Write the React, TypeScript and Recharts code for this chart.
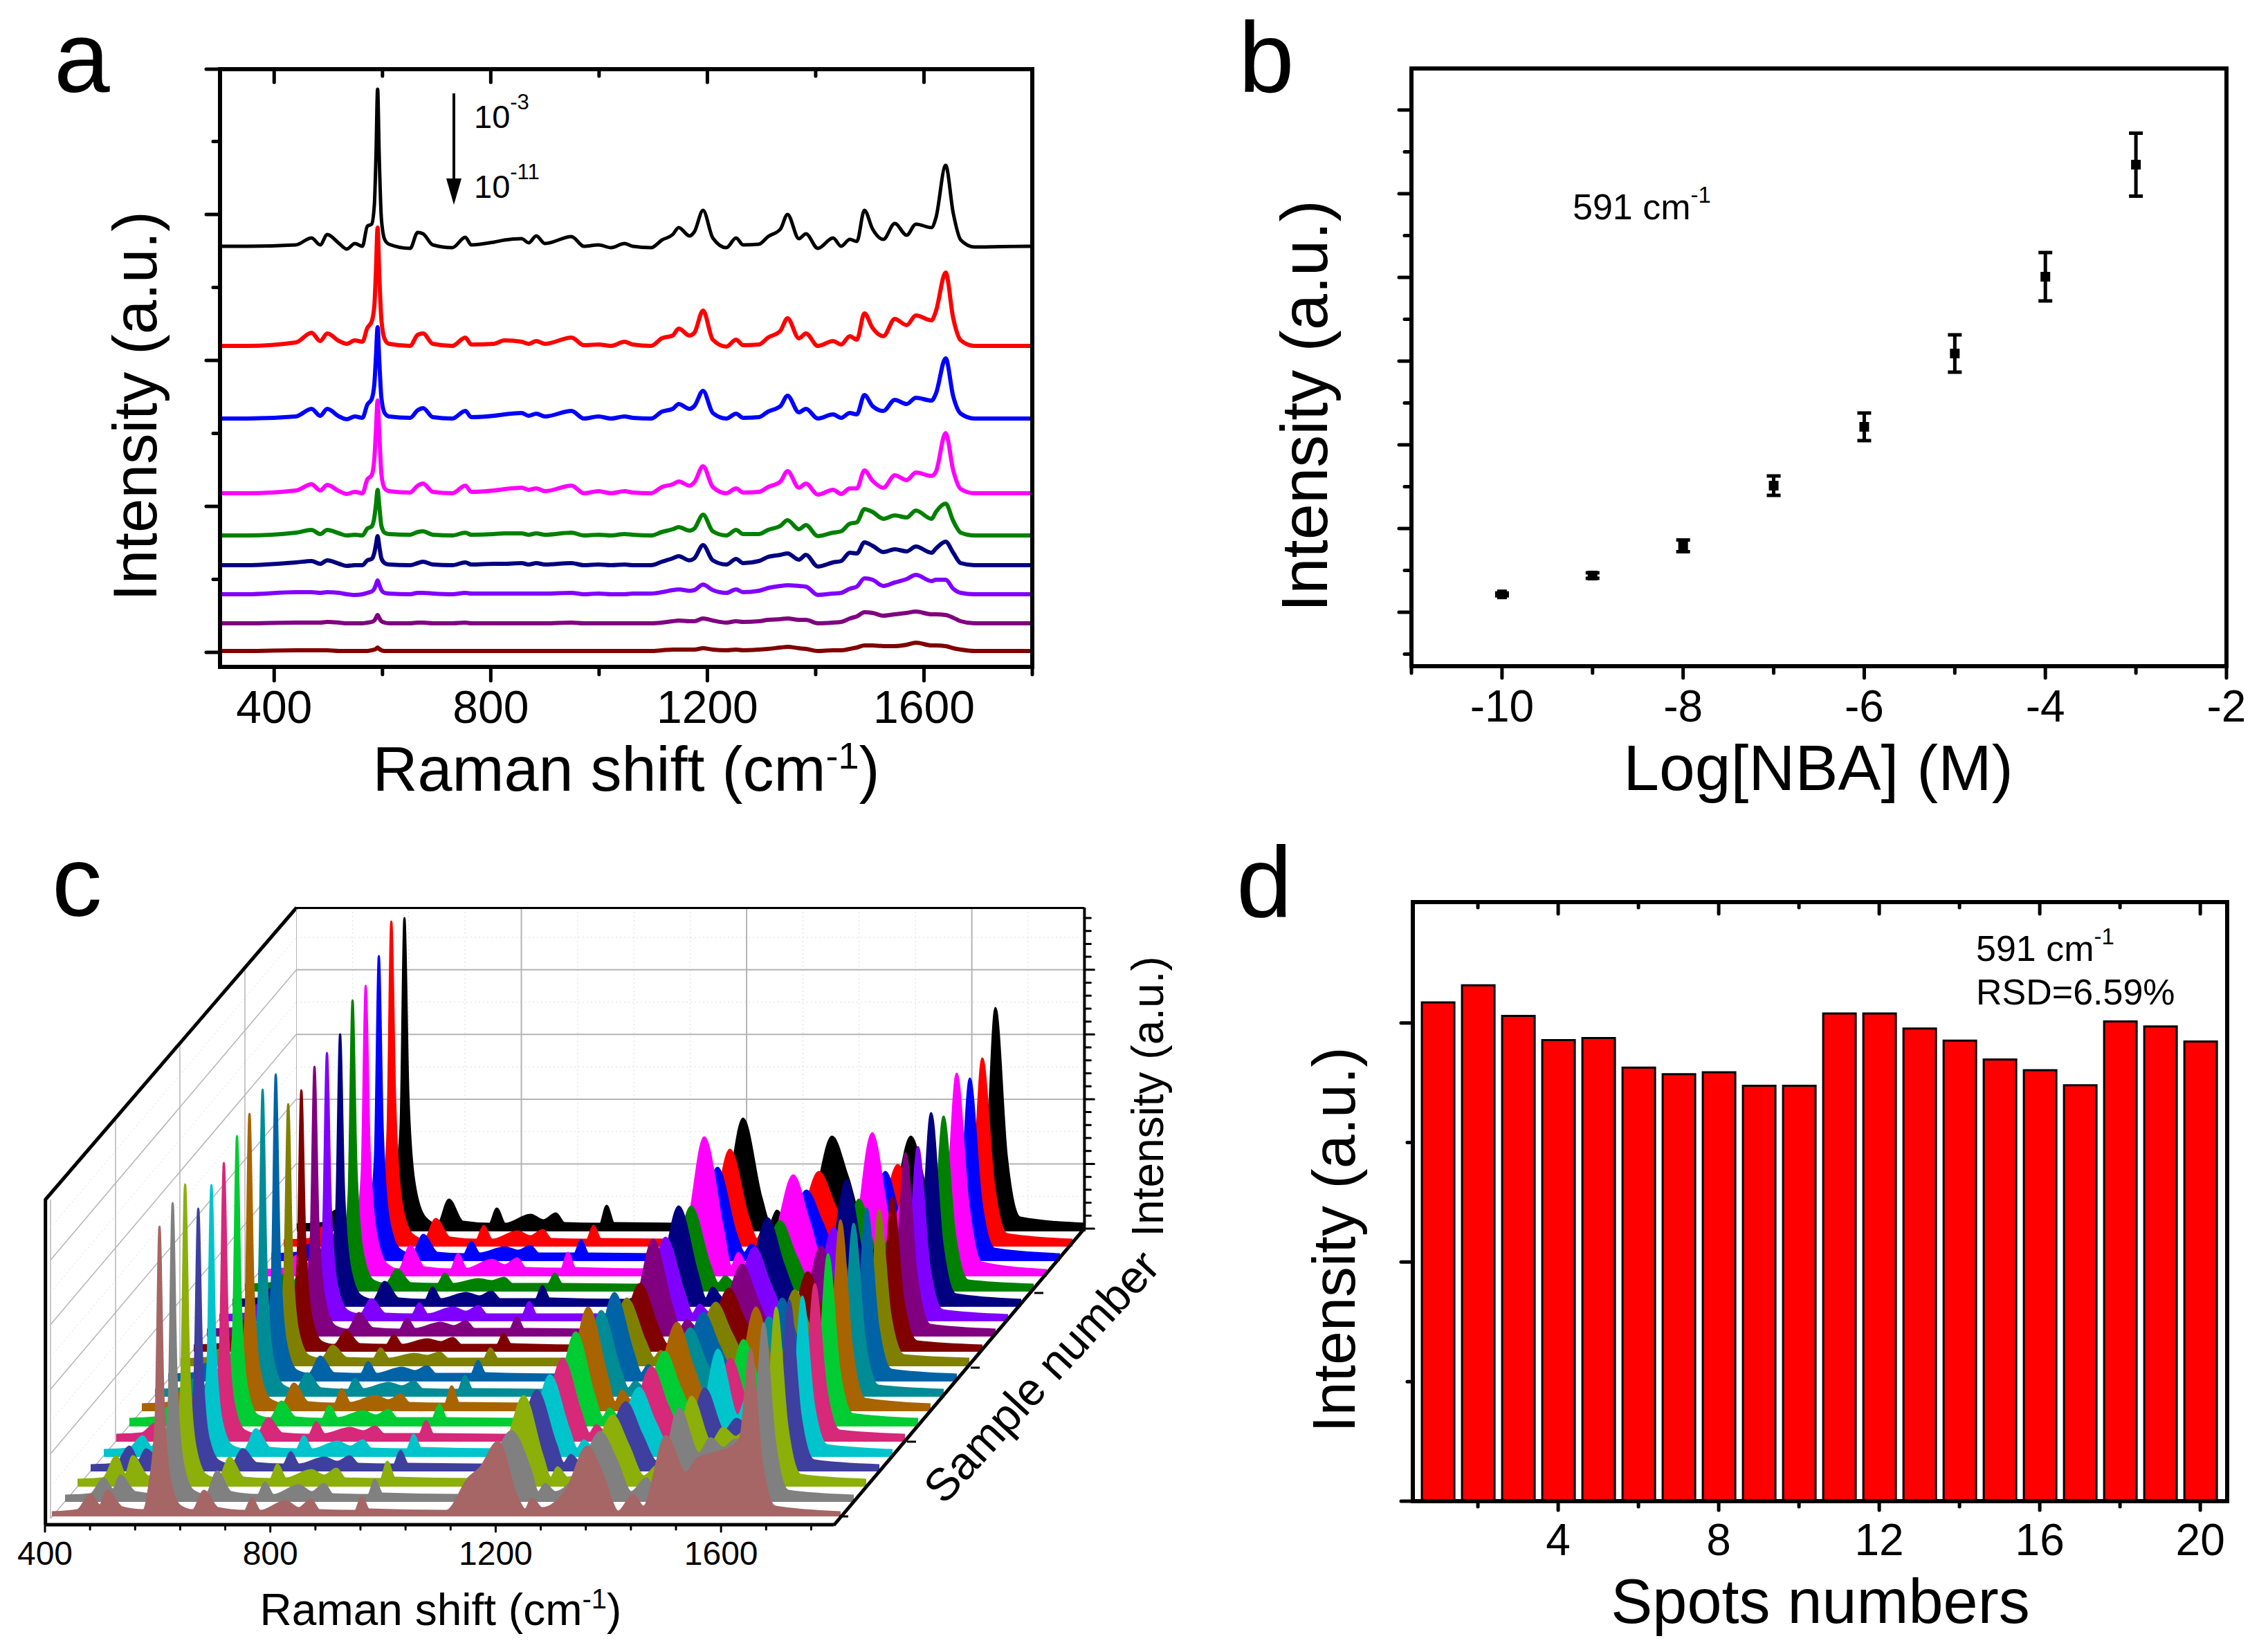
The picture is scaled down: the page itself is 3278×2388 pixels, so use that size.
import React from "react"
import {
  Area,
  AreaChart,
  Bar,
  BarChart,
  ComposedChart,
  ErrorBar,
  Line,
  LineChart,
  Scatter,
  ScatterChart,
  XAxis,
  YAxis,
} from "recharts"

const FONT = '"Liberation Sans", Arial, sans-serif'

// panel a: concentration series, offset intensity stacks
const shiftsA = [300, 350, 440, 469, 485, 498, 520, 534, 549, 563, 572, 580, 585, 588, 591, 594, 598, 604, 612, 651, 665, 675, 693, 729, 753, 764, 806, 825, 857, 870, 884, 900, 949, 972, 999, 1022, 1047, 1062, 1096, 1116, 1136, 1147, 1167, 1176, 1192, 1210, 1235, 1253, 1266, 1295, 1312, 1335, 1348, 1369, 1382, 1404, 1432, 1447, 1463, 1476, 1490, 1505, 1525, 1546, 1568, 1585, 1614, 1622, 1640, 1654, 1668, 1693, 1790, 1800]
const offsetsA = [587, 443, 338, 230, 169, 126, 84, 42, 2]
const colorsA = ["#000000", "#ff0000", "#0000ff", "#ff00ff", "#008000", "#000080", "#8000ff", "#800080", "#800000"]
const conc3 = [0, 0, 2, 12, 2, 17, 4, -4, 4, 0, 29, 32, 60, 130, 227, 130, 40, 10, 3, -3, 20, 18, 2, -2, 13, 2, 6, 9, 11, 5, 15, 4, 14, 0, 2, -2, 4, 0, -2, 9, 17, 27, 15, 21, 52, 12, -2, 12, 2, 3, 14, 25, 46, 11, 18, -3, 12, 0, 10, 7, 52, 25, 10, 33, 16, 32, 27, 41, 117, 48, 9, -1, 0, 0]
const conc4 = [0, 0, 5, 19, 7, 18, 7, 3, 8, 6, 26, 35, 58, 110, 171, 105, 38, 10, 3, 0, 16, 18, 3, 0, 12, 2, 3, 8, 6, 3, 7, 3, 12, 1, 2, 0, 6, 2, 0, 11, 15, 25, 15, 19, 51, 9, -1, 9, 1, 2, 12, 22, 40, 11, 18, 0, 7, 2, 14, 9, 47, 26, 14, 39, 30, 44, 37, 50, 106, 40, 8, 0, 0, 0]
const conc5 = [0, 0, 3, 14, 4, 14, 3, -1, 3, 1, 20, 28, 50, 90, 132, 85, 30, 8, 3, 1, 12, 15, 2, 0, 11, 2, 4, 6, 8, 4, 7, 3, 11, 0, 3, 0, 3, 1, 0, 10, 14, 21, 14, 18, 40, 8, 0, 7, 1, 2, 10, 18, 33, 9, 14, 0, 6, 1, 8, 6, 34, 18, 11, 27, 21, 30, 26, 36, 87, 32, 7, 0, 0, 0]
const conc6 = [0, 0, 4, 13, 4, 12, 3, -1, 2, 0, 20, 26, 50, 92, 134, 88, 28, 7, 3, 1, 11, 14, 2, 0, 11, 2, 4, 6, 8, 5, 7, 3, 11, 0, 3, 0, 3, 1, 0, 9, 13, 17, 11, 16, 39, 9, 0, 7, 1, 2, 9, 17, 32, 8, 14, -2, 5, -1, 7, 7, 33, 18, 8, 26, 19, 30, 25, 31, 87, 33, 6, 0, 0, 0]
const conc7 = [0, 0, 4, 8, 2, 8, 3, 0, 1, 0, 10, 13, 26, 45, 66, 44, 14, 4, 2, 1, 5, 6, 1, 0, 4, 1, 2, 3, 3, 1, 3, 1, 4, 0, 1, 0, 2, 1, 0, 5, 9, 12, 7, 10, 30, 6, 0, 8, 2, 2, 8, 14, 22, 9, 15, -1, 4, 6, 17, 19, 38, 34, 24, 29, 26, 36, 24, 34, 46, 21, 4, 0, 0, 0]
const conc8 = [0, 0, 4, 6, 2, 7, 2, -1, 0, 0, 7, 9, 18, 30, 42, 28, 10, 3, 1, 0, 3, 5, 1, 0, 4, 1, 2, 2, 3, 1, 3, 1, 3, 0, 1, 0, 1, 0, 0, 5, 10, 13, 7, 10, 29, 7, 1, 9, 3, 6, 12, 15, 17, 8, 15, -2, 4, 6, 18, 17, 33, 28, 19, 23, 20, 27, 18, 24, 34, 18, 3, 0, 0, 0]
const conc9 = [0, 0, 3, 3, 2, 3, 2, 0, -1, 0, 2, 4, 8, 14, 20, 14, 6, 2, 1, 0, 2, 2, 1, 0, 2, 1, 1, 1, 1, 1, 1, 1, 2, 0, 1, 0, 0, 1, 1, 3, 6, 7, 5, 6, 14, 6, 2, 7, 3, 5, 9, 12, 13, 12, 11, -1, 1, 2, 8, 11, 23, 21, 12, 17, 22, 28, 19, 21, 21, 8, 2, 0, 0, 0]
const conc10 = [0, 0, 1, 1, 1, 2, 1, 0, 0, 0, 1, 2, 4, 8, 12, 8, 3, 1, 0, 0, 1, 1, 0, 0, 1, 0, 0, 0, 0, 0, 0, 0, 1, 0, 0, 0, 0, 0, 0, 1, 3, 4, 3, 3, 7, 4, 1, 3, 2, 3, 5, 6, 7, 5, 5, 0, 1, 2, 7, 10, 16, 15, 11, 13, 15, 17, 13, 13, 12, 8, 3, 0, 0, 0]
const conc11 = [0, 0, 1, 1, 1, 1, 0, 0, 0, 0, 0, 1, 2, 3, 5, 3, 1, 0, 0, 0, 0, 0, 0, 0, 0, 0, 0, 0, 0, 0, 0, 0, 0, 0, 0, 0, 0, 0, 0, 1, 2, 2, 2, 2, 4, 2, 1, 2, 1, 2, 3, 5, 6, 4, 3, 0, 1, 1, 3, 5, 8, 8, 7, 7, 9, 12, 8, 8, 7, 4, 2, 0, 0, 0]
const spectraA = [conc3, conc4, conc5, conc6, conc7, conc8, conc9, conc10, conc11]
const tableA = shiftsA.map((shift, i) => {
  const row: Record<string, number> = { shift }
  spectraA.forEach((s, k) => {
    row[`s${k}`] = offsetsA[k] + s[i]
  })
  return row
})
const ticksAX = [400, 600, 800, 1000, 1200, 1400, 1600, 1800]
const majorsAX = [400, 800, 1200, 1600]
const ticksAY = [0, 105.5, 211, 316.5, 422, 527.5, 633, 738.5, 843]
const majorsAY = [0, 211, 422, 633, 843]

// panel b
const logConc = [-10, -9, -8, -7, -6, -5, -4, -3]
const intensityB = [213, 438, 793, 1512, 2215, 3091, 4008, 5347]
const errorB = [17, 33, 70, 116, 165, 223, 289, 376]
const tableB = logConc.map((x, i) => ({ x, y: intensityB[i], err: errorB[i] }))
const ticksBX = [-11, -10, -9, -8, -7, -6, -5, -4, -3, -2]
const majorsBX = [-10, -8, -6, -4, -2]
const ticksBY = [-500, 0, 500, 1000, 1500, 2000, 2500, 3000, 3500, 4000, 4500, 5000, 5500, 6000]
const majorsBY = [0, 1000, 2000, 3000, 4000, 5000, 6000]
const ticksBOuter = [1, 2, 3, 4, 5, 6, 7, 8, 9]
const majorsBOuter = [2, 4, 6, 8]

// panel c: 20 repeat spectra, back to front
const shiftsC = [400, 445, 469, 485, 498, 525, 562, 573, 584, 591, 598, 609, 628, 650, 670, 695, 742, 755, 770, 815, 838, 860, 875, 938, 950, 963, 1100, 1140, 1160, 1192, 1225, 1240, 1252, 1270, 1315, 1350, 1378, 1405, 1432, 1450, 1490, 1525, 1546, 1568, 1590, 1606, 1622, 1640, 1660, 1684, 1800]
const sampleColors = ["#000000", "#ff0000", "#0000ff", "#ff00ff", "#008000", "#000080", "#8000ff", "#800080", "#800000", "#808000", "#0063a6", "#008c96", "#a86400", "#00cc33", "#d6297a", "#00c4cc", "#3f3f9f", "#8caf0a", "#808080", "#a66666"]
const sample20 = [10, 12, 30, 14, 34, 14, 12, 60, 150, 453, 200, 70, 20, 10, 46, 14, 11, 33, 11, 24, 16, 26, 12, 11, 37, 12, 11, 35, 45, 163, 48, 12, 30, 13, 40, 137, 79, 14, 32, 14, 137, 50, 85, 45, 70, 60, 85, 323, 110, 20, 11]
const sample19 = [9, 11, 28, 13, 30, 13, 11, 55, 160, 470, 210, 65, 18, 10, 40, 13, 10, 30, 10, 22, 15, 24, 11, 10, 30, 11, 10, 30, 40, 140, 42, 11, 26, 12, 34, 108, 60, 12, 28, 13, 118, 45, 70, 50, 65, 55, 75, 272, 95, 18, 10]
const sample18 = [10, 12, 24, 13, 28, 12, 11, 50, 150, 441, 190, 60, 17, 10, 38, 12, 10, 28, 11, 20, 15, 22, 11, 11, 30, 11, 10, 28, 42, 135, 40, 12, 24, 12, 36, 102, 56, 12, 26, 13, 129, 48, 72, 54, 68, 60, 80, 264, 90, 18, 10]
const sample17 = [9, 11, 30, 14, 34, 14, 11, 58, 150, 420, 185, 65, 18, 10, 44, 13, 10, 32, 11, 24, 16, 26, 12, 11, 34, 12, 10, 38, 62, 201, 70, 14, 34, 14, 52, 146, 80, 16, 40, 16, 207, 75, 110, 85, 100, 92, 115, 293, 110, 20, 9]
const sample16 = [10, 12, 24, 12, 28, 12, 11, 45, 140, 421, 180, 58, 16, 11, 32, 12, 11, 26, 11, 18, 15, 20, 11, 11, 26, 11, 10, 26, 38, 123, 40, 12, 22, 12, 34, 102, 52, 13, 24, 14, 133, 50, 76, 60, 78, 70, 85, 253, 85, 16, 10]
const sample15 = [10, 12, 26, 13, 28, 12, 11, 48, 135, 394, 170, 56, 16, 10, 36, 12, 10, 28, 11, 20, 15, 22, 11, 11, 30, 12, 10, 32, 48, 145, 50, 12, 28, 13, 42, 128, 62, 14, 30, 14, 183, 62, 90, 68, 82, 78, 95, 280, 92, 18, 10]
const sample14 = [9, 11, 24, 12, 26, 11, 10, 42, 130, 388, 165, 52, 15, 10, 32, 11, 10, 26, 10, 20, 14, 22, 10, 10, 28, 10, 10, 28, 40, 121, 42, 11, 24, 12, 36, 107, 54, 12, 26, 13, 135, 55, 75, 62, 80, 72, 85, 252, 82, 16, 9]
const sample13 = [10, 12, 24, 12, 26, 12, 10, 44, 132, 390, 165, 54, 15, 10, 34, 12, 10, 26, 11, 20, 15, 22, 11, 11, 28, 11, 10, 30, 45, 140, 46, 12, 24, 12, 36, 104, 52, 13, 26, 14, 130, 55, 76, 64, 82, 74, 90, 265, 88, 17, 10]
const sample12 = [9, 11, 22, 11, 24, 11, 10, 40, 125, 378, 160, 50, 14, 10, 30, 11, 10, 24, 10, 18, 14, 20, 10, 10, 26, 11, 9, 24, 34, 98, 34, 11, 20, 11, 30, 91, 46, 11, 22, 12, 115, 46, 62, 52, 60, 58, 70, 224, 72, 15, 9]
const sample11 = [10, 12, 24, 12, 26, 12, 11, 42, 128, 379, 160, 50, 15, 11, 30, 12, 11, 26, 11, 18, 15, 20, 11, 11, 26, 11, 11, 26, 34, 98, 36, 12, 22, 12, 32, 92, 48, 12, 24, 12, 110, 48, 66, 54, 62, 60, 70, 226, 74, 16, 11]
const sample10 = [10, 12, 26, 13, 28, 12, 11, 48, 145, 444, 190, 58, 16, 11, 36, 12, 11, 28, 11, 20, 15, 22, 11, 11, 30, 12, 10, 30, 42, 128, 44, 12, 24, 12, 36, 99, 52, 13, 26, 13, 120, 52, 74, 58, 72, 64, 82, 250, 84, 17, 10]
const sample9 = [10, 12, 25, 12, 28, 12, 11, 46, 145, 444, 188, 56, 16, 10, 34, 12, 10, 26, 11, 20, 15, 22, 11, 10, 30, 11, 10, 28, 40, 124, 42, 12, 22, 12, 34, 99, 50, 12, 24, 13, 115, 50, 70, 56, 70, 62, 80, 250, 82, 16, 10]
const sample8 = [10, 12, 28, 14, 30, 13, 11, 50, 140, 430, 185, 60, 17, 11, 40, 13, 11, 32, 12, 22, 16, 24, 12, 11, 36, 12, 11, 36, 54, 150, 54, 13, 30, 14, 46, 128, 66, 15, 32, 15, 150, 62, 92, 70, 86, 80, 98, 276, 95, 18, 10]
const sample7 = [11, 13, 27, 13, 30, 13, 12, 48, 138, 420, 178, 56, 16, 12, 36, 13, 11, 30, 12, 22, 16, 24, 12, 12, 32, 12, 11, 34, 48, 136, 46, 13, 26, 13, 40, 108, 56, 14, 28, 14, 125, 56, 80, 60, 76, 70, 84, 249, 84, 18, 11]
const sample6 = [10, 12, 26, 13, 28, 12, 11, 46, 132, 403, 172, 54, 16, 11, 34, 12, 10, 28, 11, 20, 15, 22, 11, 11, 30, 11, 10, 30, 42, 120, 42, 12, 24, 12, 36, 108, 54, 13, 26, 13, 120, 52, 74, 58, 70, 64, 76, 228, 78, 16, 10]
const sample5 = [10, 12, 30, 14, 34, 14, 12, 46, 130, 393, 168, 54, 16, 11, 40, 13, 11, 30, 11, 22, 15, 24, 12, 11, 32, 13, 11, 32, 44, 118, 42, 12, 24, 12, 38, 100, 52, 14, 30, 14, 155, 60, 95, 66, 78, 70, 80, 232, 78, 17, 10]
const sample4 = [9, 11, 36, 16, 32, 14, 11, 44, 125, 380, 162, 50, 15, 10, 32, 12, 10, 28, 10, 20, 14, 22, 11, 10, 30, 11, 10, 34, 50, 117, 42, 12, 24, 12, 40, 100, 54, 14, 28, 14, 120, 58, 76, 66, 80, 72, 84, 247, 82, 16, 9]
const sample3 = [10, 12, 44, 18, 44, 15, 12, 50, 145, 437, 185, 60, 17, 11, 42, 13, 11, 32, 12, 24, 16, 26, 12, 11, 36, 13, 11, 42, 60, 131, 46, 13, 28, 13, 46, 103, 60, 15, 32, 15, 130, 64, 85, 72, 84, 78, 90, 259, 88, 17, 10]
const sample2 = [9, 11, 34, 18, 38, 14, 11, 48, 142, 432, 180, 58, 16, 10, 44, 14, 10, 28, 10, 24, 14, 26, 11, 10, 32, 12, 10, 46, 62, 102, 50, 14, 26, 14, 48, 101, 62, 14, 34, 15, 135, 70, 92, 78, 90, 84, 96, 258, 88, 16, 9]
const sample1 = [6, 9, 32, 16, 37, 13, 9, 46, 138, 419, 175, 56, 15, 9, 37, 12, 8, 26, 8, 22, 12, 24, 9, 8, 28, 10, 8, 56, 70, 108, 30, 10, 26, 12, 41, 101, 60, 7, 31, 14, 116, 63, 84, 90, 95, 100, 115, 242, 80, 14, 6]
const samplesC = [sample20, sample19, sample18, sample17, sample16, sample15, sample14, sample13, sample12, sample11, sample10, sample9, sample8, sample7, sample6, sample5, sample4, sample3, sample2, sample1]
const tableCAxis = shiftsC.map((shift) => ({ shift }))
const ticksCX = [400, 480, 560, 640, 720, 800, 880, 960, 1040, 1120, 1200, 1280, 1360, 1440, 1520, 1600, 1680, 1760]
const majorsCX = [400, 800, 1200, 1600]
const ticksCZ = [0, 0.2, 0.4, 0.6, 0.8, 1, 1.2, 1.4, 1.6, 1.8, 2, 2.2, 2.4, 2.6, 2.8, 3, 3.2, 3.4, 3.6, 3.8, 4, 4.2, 4.4, 4.6, 4.8]
const majorsCZ = [0, 1, 2, 3, 4]
const wallMinorX = [500, 600, 700, 900, 1000, 1100, 1300, 1400, 1500, 1700]
const wallMajorX = [400, 800, 1200, 1600]
const wallMinorZ = [0.5, 1.5, 2.5, 3.5, 4.5]
const wallMajorZ = [1, 2, 3, 4]

// panel d
const spots = [1, 2, 3, 4, 5, 6, 7, 8, 9, 10, 11, 12, 13, 14, 15, 16, 17, 18, 19, 20]
const spotIntensity = [4172, 4315, 4059, 3857, 3874, 3626, 3572, 3588, 3475, 3475, 4080, 4080, 3954, 3853, 3694, 3605, 3479, 4013, 3971, 3845]
const tableD = spots.map((spot, i) => ({ spot, value: spotIntensity[i] }))
const ticksDX = [2, 4, 6, 8, 10, 12, 14, 16, 18, 20]
const majorsDX = [4, 8, 12, 16, 20]
const ticksDY = [0, 1000, 2000, 3000, 4000]
const majorsDY = [0, 2000, 4000]

type Side = "left" | "right" | "top" | "bottom"
type TickOpts = {
  side: Side
  dir: 1 | -1 // 1 = outward, -1 = inward
  majors: number[]
  long: number
  short: number
  width?: number
  label?: { size: number; gap: number }
}

// ticks are drawn by hand so major and minor can have different lengths
function makeTick({ side, dir, majors, long, short, width = 5, label }: TickOpts) {
  return (props: any) => {
    const { x, y, payload } = props
    const major = majors.includes(payload.value)
    const len = (major ? long : short) * dir
    const dx = side === "left" ? -len : side === "right" ? len : 0
    const dy = side === "top" ? -len : side === "bottom" ? len : 0
    return (
      <g>
        <line x1={x} y1={y} x2={x + dx} y2={y + dy} stroke="#000" strokeWidth={width} strokeLinecap="round" />
        {label && major ? (
          <text x={x} y={y + label.gap} textAnchor="middle" fontFamily={FONT} fontSize={label.size} fill="#000">
            {payload.value}
          </text>
        ) : null}
      </g>
    )
  }
}

const frame = { stroke: "#000", strokeWidth: 6, strokeLinecap: "square" as const }
const box = (left: number, top: number): React.CSSProperties => ({ position: "absolute", left, top })

function PanelA() {
  return (
    <div style={box(0, 0)}>
      <LineChart width={1600} height={1200} data={tableA} margin={{ left: 317, top: 99, right: 107, bottom: 235 }}>
        <XAxis xAxisId="b" type="number" dataKey="shift" domain={[300, 1800]} ticks={ticksAX} interval={0} height={1} tickSize={0} tickMargin={0} axisLine={frame} tickLine={false}
          tick={makeTick({ side: "bottom", dir: 1, majors: majorsAX, long: 20, short: 11, label: { size: 66, gap: 81 } })} />
        <XAxis xAxisId="t" orientation="top" type="number" dataKey="shift" domain={[300, 1800]} ticks={ticksAX} interval={0} height={1} tickSize={0} tickMargin={0} axisLine={frame} tickLine={false}
          tick={makeTick({ side: "top", dir: -1, majors: majorsAX, long: 19, short: 10 })} />
        <YAxis yAxisId="l" type="number" domain={[-21, 843]} ticks={ticksAY} interval={0} width={1} tickSize={0} tickMargin={0} axisLine={frame} tickLine={false}
          tick={makeTick({ side: "left", dir: 1, majors: majorsAY, long: 20, short: 10 })} />
        <YAxis yAxisId="r" orientation="right" type="number" domain={[-21, 843]} ticks={ticksAY} interval={0} width={1} tickSize={0} tickMargin={0} axisLine={frame} tickLine={false}
          tick={makeTick({ side: "right", dir: -1, majors: majorsAY, long: 20, short: 10 })} />
        {spectraA.map((_, k) => (
          <Line key={k} xAxisId="b" yAxisId="l" type="monotone" dataKey={`s${k}`} stroke={colorsA[k]} strokeWidth={k === 0 ? 5 : 6} dot={false} isAnimationActive={false} />
        ))}
      </LineChart>
    </div>
  )
}

function PanelB() {
  return (
    <div style={box(1700, 0)}>
      <ScatterChart width={1578} height={1200} margin={{ left: 339, top: 98, right: 59, bottom: 236 }}>
        <XAxis xAxisId="b" type="number" dataKey="x" domain={[-11, -2]} ticks={ticksBX} interval={0} height={1} tickSize={0} tickMargin={0} axisLine={frame} tickLine={false}
          tick={makeTick({ side: "bottom", dir: 1, majors: majorsBX, long: 17, short: 10, label: { size: 64, gap: 80 } })} />
        <XAxis xAxisId="t" orientation="top" type="number" domain={[0, 10]} ticks={ticksBOuter} interval={0} height={1} tickSize={0} tickMargin={0} axisLine={frame} tickLine={false}
          tick={makeTick({ side: "top", dir: -1, majors: majorsBOuter, long: 16, short: 8 })} />
        <YAxis yAxisId="l" type="number" dataKey="y" domain={[-645, 6496]} ticks={ticksBY} interval={0} width={1} tickSize={0} tickMargin={0} axisLine={frame} tickLine={false}
          tick={makeTick({ side: "left", dir: 1, majors: majorsBY, long: 18, short: 10 })} />
        <YAxis yAxisId="r" orientation="right" type="number" domain={[0, 10]} ticks={ticksBOuter} interval={0} width={1} tickSize={0} tickMargin={0} axisLine={frame} tickLine={false}
          tick={makeTick({ side: "right", dir: -1, majors: majorsBOuter, long: 18, short: 9 })} />
        <Scatter xAxisId="b" yAxisId="l" data={tableB} fill="#000" isAnimationActive={false}
          shape={(p: any) => <rect x={p.cx - 7} y={p.cy - 7} width={14} height={14} fill="#000" />}>
          <ErrorBar dataKey="err" direction="y" width={10} stroke="#000" strokeWidth={5} isAnimationActive={false} />
        </Scatter>
      </ScatterChart>
    </div>
  )
}

// back wall: grid drawn as two-point lines so they go through the axis scales
function WallC() {
  const vertical = (x: number) => [{ shift: x, z: 0 }, { shift: x, z: 4.96 }]
  const horizontal = (z: number) => [{ shift: 400, z }, { shift: 1800, z }]
  const minor = { stroke: "#dcdcdc", strokeWidth: 1, strokeDasharray: "2 4" }
  const major = { stroke: "#b4b4b4", strokeWidth: 2 }
  return (
    <div style={box(427.6, 1311)}>
      <ComposedChart width={1260} height={522} margin={{ left: 0, top: 0, right: 119.6, bottom: 57 }}>
        <XAxis xAxisId="t" orientation="top" type="number" dataKey="shift" domain={[400, 1800]} ticks={[400, 1800]} tick={false} height={1} tickSize={0} axisLine={{ stroke: "#000", strokeWidth: 4 }} tickLine={false} allowDuplicatedCategory={false} />
        <YAxis yAxisId="z" orientation="right" type="number" domain={[0, 4.96]} ticks={ticksCZ} interval={0} width={1} tickSize={0} tickMargin={0} axisLine={{ stroke: "#000", strokeWidth: 4 }} tickLine={false}
          tick={makeTick({ side: "right", dir: 1, majors: majorsCZ, long: 14, short: 9, width: 3 })} />
        {wallMinorX.map((v) => (
          <Line key={`mx${v}`} xAxisId="t" yAxisId="z" data={vertical(v)} dataKey="z" dot={false} isAnimationActive={false} {...minor} />
        ))}
        {wallMinorZ.map((v) => (
          <Line key={`mz${v}`} xAxisId="t" yAxisId="z" data={horizontal(v)} dataKey="z" dot={false} isAnimationActive={false} {...minor} />
        ))}
        {wallMajorX.map((v) => (
          <Line key={`x${v}`} xAxisId="t" yAxisId="z" data={vertical(v)} dataKey="z" dot={false} isAnimationActive={false} {...major} />
        ))}
        {wallMajorZ.map((v) => (
          <Line key={`z${v}`} xAxisId="t" yAxisId="z" data={horizontal(v)} dataKey="z" dot={false} isAnimationActive={false} {...major} />
        ))}
      </ComposedChart>
    </div>
  )
}

function SampleC({ index }: { index: number }) {
  const data = shiftsC.map((shift, i) => ({ shift, value: samplesC[index][i] }))
  // baseline steps by one sample toward the front of the waterfall
  const left = 429 - 18.63 * index
  const top = 1780 + 21.7 * index - 520
  return (
    <div style={box(left, top)}>
      <AreaChart width={1140} height={520} data={data} margin={{ left: 0, top: 0, right: 0, bottom: 0 }}>
        <XAxis type="number" dataKey="shift" domain={[400, 1800]} hide />
        <YAxis type="number" domain={[0, 520]} hide />
        <Area type="monotone" dataKey="value" stroke={sampleColors[index]} strokeWidth={3} fill={sampleColors[index]} fillOpacity={1} dot={false} isAnimationActive={false} />
      </AreaChart>
    </div>
  )
}

function FrontAxisC() {
  return (
    <div style={box(0, 2000)}>
      <ComposedChart width={1300} height={300} data={tableCAxis} margin={{ left: 65, top: 0, right: 95, bottom: 95 }}>
        <XAxis type="number" dataKey="shift" domain={[400, 1800]} ticks={ticksCX} interval={0} height={1} tickSize={0} tickMargin={0} axisLine={{ stroke: "#000", strokeWidth: 5 }} tickLine={false}
          tick={makeTick({ side: "bottom", dir: 1, majors: majorsCX, long: 10, short: 7, width: 3, label: { size: 48, gap: 58 } })} />
        <YAxis type="number" domain={[0, 1]} hide />
      </ComposedChart>
    </div>
  )
}

function PanelD() {
  return (
    <div style={box(1700, 1200)}>
      <BarChart width={1578} height={1188} data={tableD} margin={{ left: 341, top: 103, right: 58, bottom: 217 }}>
        <XAxis xAxisId="b" type="number" dataKey="spot" domain={[0.378, 20.67]} ticks={ticksDX} interval={0} height={1} tickSize={0} tickMargin={0} axisLine={frame} tickLine={false}
          tick={makeTick({ side: "bottom", dir: 1, majors: majorsDX, long: 13, short: 8, label: { size: 64, gap: 78 } })} />
        <XAxis xAxisId="t" orientation="top" type="number" dataKey="spot" domain={[0.378, 20.67]} ticks={ticksDX} interval={0} height={1} tickSize={0} tickMargin={0} axisLine={frame} tickLine={false}
          tick={makeTick({ side: "top", dir: -1, majors: majorsDX, long: 17, short: 8 })} />
        <YAxis yAxisId="l" type="number" domain={[0, 5011]} ticks={ticksDY} interval={0} width={1} tickSize={0} tickMargin={0} axisLine={frame} tickLine={false}
          tick={makeTick({ side: "left", dir: 1, majors: majorsDY, long: 17, short: 8 })} />
        <YAxis yAxisId="r" orientation="right" type="number" domain={[0, 5011]} ticks={ticksDY} interval={0} width={1} tickSize={0} tickMargin={0} axisLine={frame} tickLine={false}
          tick={makeTick({ side: "right", dir: -1, majors: majorsDY, long: 17, short: 8 })} />
        <Bar xAxisId="b" yAxisId="l" dataKey="value" barSize={47} fill="#ff0000" stroke="#000" strokeWidth={3} isAnimationActive={false} />
      </BarChart>
    </div>
  )
}

function Sup({ size, rise, children }: { size: number; rise: number; children: string }) {
  return (
    <tspan dy={-rise} fontSize={size}>
      {children}
    </tspan>
  )
}

function Labels() {
  const t = { fontFamily: FONT, fill: "#000" }
  return (
    <svg width={3278} height={2388} style={{ position: "absolute", left: 0, top: 0 }}>
      <text {...t} x={78} y={133} fontSize={145}>a</text>
      <text {...t} x={1790} y={133} fontSize={145}>b</text>
      <text {...t} x={75} y={1324} fontSize={145}>c</text>
      <text {...t} x={1787} y={1325} fontSize={145}>d</text>

      <text {...t} x={905} y={1143} fontSize={90} textAnchor="middle">
        Raman shift (cm<Sup size={54} rise={32}>-1</Sup><tspan dy={32}>)</tspan>
      </text>
      <text {...t} fontSize={89} textAnchor="middle" transform="translate(226 587) rotate(-90)">Intensity (a.u.)</text>
      <line x1={656} y1={135} x2={656} y2={265} stroke="#000" strokeWidth={4} />
      <polygon points="645,258 667,258 656,296" fill="#000" />
      <text {...t} x={685} y={185} fontSize={47}>
        10<Sup size={31} rise={27}>-3</Sup>
      </text>
      <text {...t} x={685} y={286} fontSize={47}>
        10<Sup size={31} rise={27}>-11</Sup>
      </text>

      <text {...t} x={2628} y={1142} fontSize={93} textAnchor="middle">Log[NBA] (M)</text>
      <text {...t} fontSize={94} textAnchor="middle" transform="translate(1918 587) rotate(-90)">Intensity (a.u.)</text>
      <text {...t} x={2273} y={317} fontSize={52}>
        591 cm<Sup size={33} rise={24}>-1</Sup>
      </text>

      <text {...t} x={637} y={2349} fontSize={64} textAnchor="middle">
        Raman shift (cm<Sup size={40} rise={24}>-1</Sup><tspan dy={24}>)</tspan>
      </text>
      <text {...t} fontSize={64} textAnchor="middle" transform="translate(1681 1585) rotate(-90)">Intensity (a.u.)</text>
      <text {...t} fontSize={66} textAnchor="middle" transform="translate(1522 2005) rotate(-47.5)">Sample number</text>

      <text {...t} x={2631} y={2346} fontSize={90} textAnchor="middle">Spots numbers</text>
      <text {...t} fontSize={88} textAnchor="middle" transform="translate(1958 1792) rotate(-90)">Intensity (a.u.)</text>
      <text {...t} x={2856} y={1389} fontSize={52}>
        591 cm<Sup size={33} rise={24}>-1</Sup>
      </text>
      <text {...t} x={2856} y={1452} fontSize={52}>RSD=6.59%</text>
    </svg>
  )
}

// slanted edges of the 3D box in panel c
function WallEdges() {
  const diag = [2204, 2110.6, 2017.2, 1923.8, 1830.4]
  const faint = [2157.3, 2063.9, 1970.5, 1877.1, 1783.7]
  const verticals = [
    [167, 1616, 2084],
    [260, 1508, 1974],
    [354, 1399, 1862],
  ]
  return (
    <svg width={3278} height={2388} style={{ position: "absolute", left: 0, top: 0 }}>
      <line x1={73} y1={1734} x2={73} y2={2195} stroke="#b4b4b4" strokeWidth={1.5} />
      {faint.map((y) => (
        <line key={y} x1={73} y1={y - 9} x2={428.6} y2={y - 429} stroke="#dcdcdc" strokeWidth={1} strokeDasharray="2 4" />
      ))}
      {diag.map((y) => (
        <line key={y} x1={73} y1={y - 9} x2={428.6} y2={y - 429} stroke="#b4b4b4" strokeWidth={1.5} />
      ))}
      {verticals.map(([x, y1, y2]) => (
        <line key={x} x1={x} y1={y1} x2={x} y2={y2} stroke="#b4b4b4" strokeWidth={1.5} />
      ))}
      <polyline points="65.7,2204 65.7,1734 428.6,1312" fill="none" stroke="#000" strokeWidth={5} />
    </svg>
  )
}

function FrontEdges() {
  const marks = [
    [1213, 2192],
    [1311, 2084],
    [1403, 1977],
    [1495, 1869],
  ]
  return (
    <svg width={3278} height={2388} style={{ position: "absolute", left: 0, top: 0 }}>
      <line x1={1205} y1={2205} x2={1568} y2={1775} stroke="#000" strokeWidth={5} />
      {marks.map(([x, y]) => (
        <line key={x} x1={x} y1={y} x2={x + 13} y2={y} stroke="#000" strokeWidth={3} />
      ))}
    </svg>
  )
}

export default function App() {
  return (
    <div style={{ position: "absolute", left: 0, top: 0, width: 3278, height: 2388, background: "#fff", overflow: "hidden" }}>
      <PanelA />
      <PanelB />
      <WallEdges />
      <WallC />
      {samplesC.map((_, i) => (
        <SampleC key={i} index={i} />
      ))}
      <FrontAxisC />
      <FrontEdges />
      <PanelD />
      <Labels />
    </div>
  )
}
